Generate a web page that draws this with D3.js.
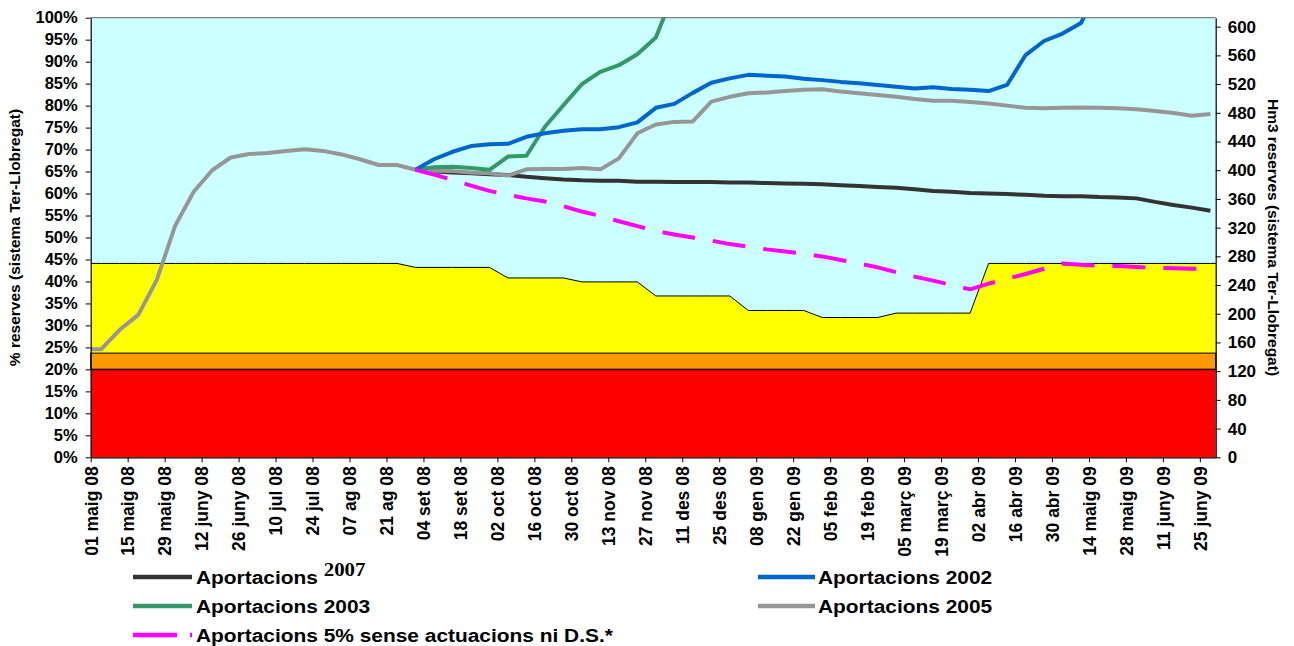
<!DOCTYPE html>
<html>
<head>
<meta charset="utf-8">
<script src="https://cdn.jsdelivr.net/npm/d3@7"></script>
<style>
  body { margin: 0; background: #fff; }
  text { font-family: "Liberation Sans", Arial, sans-serif; font-weight: bold; fill: #000; }
</style>
</head>
<body>
<svg id="chart" width="1294" height="646"></svg>
<script>
const width = 1294;
const height = 646;
const margin = { top: 17.7, right: 78.3, bottom: 188.7, left: 90.7 };
const chartWidth = width - margin.left - margin.right;
const chartHeight = height - margin.top - margin.bottom;

// tick labels of the date axis (every 14 days from 01 maig 08)
const tickLabels = ["01 maig 08","15 maig 08","29 maig 08","12 juny 08","26 juny 08","10 jul 08","24 jul 08",
  "07 ag 08","21 ag 08","04 set 08","18 set 08","02 oct 08","16 oct 08","30 oct 08","13 nov 08","27 nov 08",
  "11 des 08","25 des 08","08 gen 09","22 gen 09","05 feb 09","19 feb 09","05 març 09","19 març 09",
  "02 abr 09","16 abr 09","30 abr 09","14 maig 09","28 maig 09","11 juny 09","25 juny 09"];

// weekly dates: 01 maig 08, then every monday up to 29 juny 09
const firstDate = new Date(2008, 4, 1);
const dates = [firstDate, ...d3.timeMonday.range(new Date(2008, 4, 5), new Date(2009, 5, 30))];

// observed reserves (%) up to the 01 set 08 branch point
const historic = [24.6, 24.6, 29.0, 32.4, 40.3, 52.7, 60.4, 65.3, 68.2, 69.0, 69.2, 69.7, 70.1, 69.7,
  68.9, 67.8, 66.5, 66.5, 65.4];

// scenarios (%) from the branch point onwards
const aport2007 = [65.4, 65.0, 64.8, 64.6, 64.4, 64.2, 63.8, 63.5, 63.2, 63.0,
  62.9, 62.9, 62.7, 62.7, 62.6, 62.6, 62.6, 62.5, 62.5, 62.4,
  62.3, 62.2, 62.1, 61.9, 61.7, 61.5, 61.3, 61.0, 60.6, 60.4,
  60.1, 60.0, 59.9, 59.7, 59.5, 59.4, 59.4, 59.2, 59.1, 58.9,
  58.1, 57.4, 56.8, 56.1];
const aport2002 = [65.4, 67.8, 69.5, 70.8, 71.2, 71.3, 72.9, 73.7, 74.3, 74.6,
  74.6, 75.1, 76.2, 79.5, 80.4, 82.9, 85.2, 86.2, 87.0, 86.8,
  86.6, 86.1, 85.8, 85.4, 85.1, 84.7, 84.3, 83.9, 84.2, 83.8,
  83.6, 83.3, 84.7, 91.5, 94.7, 96.4, 98.8, 107];
const aport2003 = [65.4, 66.0, 66.1, 65.8, 65.4, 68.4, 68.6, 75.2, 80.1, 84.9,
  87.7, 89.2, 91.7, 95.5, 106];
const aport2005 = [65.4, 65.2, 65.1, 64.8, 64.6, 64.1, 65.5, 65.6, 65.6, 65.8,
  65.5, 68.0, 73.7, 75.7, 76.3, 76.4, 80.9, 82.0, 82.8, 83.0,
  83.3, 83.6, 83.7, 83.2, 82.8, 82.4, 82.0, 81.5, 81.1, 81.1,
  80.8, 80.5, 80.0, 79.5, 79.4, 79.5, 79.6, 79.5, 79.4, 79.2,
  78.8, 78.3, 77.7, 78.1];
const aport5pct = [65.4, 64.3, 63.1, 61.8, 60.6, 59.7, 58.9, 58.2, 57.1, 55.9,
  54.9, 53.7, 52.6, 51.5, 50.7, 50.0, 49.3, 48.5, 47.9, 47.3,
  46.8, 46.3, 45.7, 44.9, 44.1, 43.2, 42.1, 41.1, 40.2, 39.2,
  38.2, 39.5, 40.6, 41.7, 42.9, 44.1, 43.8, 43.6, 43.5, 43.3,
  43.1, 43.0, 42.9, 42.8];

// yellow band upper limit (%), one value per date
const yellowTop = [44.1,
  44.1, 44.1, 44.1, 44.1, 44.1, 44.1, 44.1, 44.1, 44.1, 44.1, 44.1, 44.1, 44.1, 44.1, 44.1, 44.1, 44.1,
  43.2, 43.2, 43.2, 43.2, 43.2,
  40.8, 40.8, 40.8, 40.8,
  39.9, 39.9, 39.9, 39.9,
  36.7, 36.7, 36.7, 36.7, 36.7,
  33.4, 33.4, 33.4, 33.4,
  31.8, 31.8, 31.8, 31.8,
  32.8, 32.8, 32.8, 32.8, 32.8,
  44.1, 44.1, 44.1, 44.1, 44.1, 44.1, 44.1, 44.1, 44.1, 44.1, 44.1, 44.1, 44.1];
const orangeTop = 23.7;
const redTop = 20;
const capacityHm3 = 612.5;

const legendLabels = ["Aportacions ", "Aportacions 2002", "Aportacions 2003", "Aportacions 2005",
  "Aportacions 5% sense actuacions ni D.S.*"];

const svg = d3.select("#chart");
const g = svg.append("g").attr("transform", `translate(${margin.left},${margin.top})`);

const x = d3.scaleTime().domain([firstDate, new Date(2009, 6, 1)]).range([0, chartWidth]);
const yL = d3.scaleLinear().domain([0, 100]).range([chartHeight, 0]);
const yR = d3.scaleLinear().domain([0, capacityHm3]).range([chartHeight, 0]);

svg.append("defs").append("clipPath").attr("id", "plotclip")
  .append("rect").attr("width", chartWidth).attr("height", chartHeight);

// background bands
g.append("rect").attr("width", chartWidth).attr("height", chartHeight).attr("fill", "#CCFFFF");

const yellowData = yellowTop.map((v, i) => ({ date: dates[i], v }));
yellowData.push({ date: x.domain()[1], v: yellowTop[yellowTop.length - 1] });

g.append("path").datum(yellowData)
  .attr("fill", "#FFFF00")
  .attr("d", d3.area().x(d => x(d.date)).y0(yL(orangeTop)).y1(d => yL(d.v)));
g.append("path").datum(yellowData)
  .attr("fill", "none").attr("stroke", "#000").attr("stroke-width", 1)
  .attr("d", d3.line().x(d => x(d.date)).y(d => yL(d.v)));

g.append("rect").attr("y", yL(orangeTop)).attr("width", chartWidth)
  .attr("height", yL(redTop) - yL(orangeTop)).attr("fill", "#FF9900")
  .attr("stroke", "#000").attr("stroke-width", 1);
g.append("rect").attr("y", yL(redTop)).attr("width", chartWidth)
  .attr("height", chartHeight - yL(redTop)).attr("fill", "#FF0000");
g.append("line").attr("x2", chartWidth).attr("y1", yL(redTop)).attr("y2", yL(redTop))
  .attr("stroke", "#200000").attr("stroke-width", 1.5);

// lines
const line = d3.line().x(d => x(d.date)).y(d => yL(d.v));
const scenDates = dates.slice(historic.length - 1);
const toPts = (arr, ds) => arr.map((v, i) => ({ date: ds[i], v }));

const lines = g.append("g").attr("clip-path", "url(#plotclip)");
const series = [
  { data: toPts(aport2007, scenDates), color: "#333333" },
  { data: toPts(historic, dates), color: "#969696" },
  { data: toPts(aport2005, scenDates), color: "#969696" },
  { data: toPts(aport2003, scenDates), color: "#339966" },
  { data: toPts(aport2002, scenDates), color: "#0066CC" },
  { data: toPts(aport5pct, scenDates), color: "#FF00FF", dash: "33,18" }
];
series.forEach(s => {
  lines.append("path").datum(s.data)
    .attr("fill", "none")
    .attr("stroke", s.color)
    .attr("stroke-width", 4)
    .attr("stroke-linejoin", "round")
    .attr("stroke-dasharray", s.dash || null)
    .attr("d", line);
});

// frame
g.append("line").attr("x2", chartWidth).attr("stroke", "#808080").attr("stroke-width", 1.2);

// axes
const tickDates = tickLabels.map((_, i) => d3.timeDay.offset(firstDate, 14 * i));

const xAxis = g.append("g")
  .attr("transform", `translate(0,${chartHeight})`)
  .call(d3.axisBottom(x).tickValues(tickDates).tickFormat((d, i) => tickLabels[i])
    .tickSize(5).tickSizeOuter(0));
xAxis.selectAll("text")
  .attr("transform", "rotate(-90)")
  .attr("x", -9).attr("y", 0).attr("dy", "0.36em")
  .style("text-anchor", "end")
  .style("font-size", "17.5px");

const leftAxis = g.append("g")
  .call(d3.axisLeft(yL).tickValues(d3.range(0, 101, 5)).tickFormat(d => d + "%")
    .tickSize(5).tickSizeOuter(0).tickPadding(8));
leftAxis.selectAll("text").style("font-size", "16.5px");

const rightAxis = g.append("g")
  .attr("transform", `translate(${chartWidth},0)`)
  .call(d3.axisRight(yR).tickValues(d3.range(0, 601, 40))
    .tickSize(5).tickSizeOuter(0).tickPadding(7));
rightAxis.selectAll("text").style("font-size", "17px");

svg.selectAll(".domain").attr("stroke", "#000").attr("stroke-width", 1.2);
svg.selectAll(".tick line").attr("stroke", "#000");

// axis titles
svg.append("text")
  .attr("transform", `translate(20,${margin.top + chartHeight / 2}) rotate(-90)`)
  .attr("text-anchor", "middle")
  .style("font-size", "15.5px")
  .text("% reserves (sistema Ter-Llobregat)");
svg.append("text")
  .attr("transform", `translate(1268,${margin.top + chartHeight / 2}) rotate(90)`)
  .attr("text-anchor", "middle")
  .style("font-size", "15.5px")
  .text("Hm3 reserves (sistema Ter-Llobregat)");

// legend
const legendCols = [{ lx: 133, lw: 59, tx: 196 }, { lx: 758, lw: 57, tx: 818 }];
const legendRows = [584, 613, 642];
const legendItems = [
  { label: legendLabels[0], color: "#333333", col: 0, row: 0, year: "2007" },
  { label: legendLabels[1], color: "#0066CC", col: 1, row: 0 },
  { label: legendLabels[2], color: "#339966", col: 0, row: 1 },
  { label: legendLabels[3], color: "#969696", col: 1, row: 1 },
  { label: legendLabels[4], color: "#FF00FF", col: 0, row: 2, dash: "44,13" }
];
const legend = svg.append("g");
legendItems.forEach(it => {
  const c = legendCols[it.col];
  const by = legendRows[it.row];
  legend.append("line")
    .attr("x1", c.lx).attr("x2", c.lx + c.lw)
    .attr("y1", by - 7).attr("y2", by - 7)
    .attr("stroke", it.color).attr("stroke-width", 4.5)
    .attr("stroke-dasharray", it.dash || null);
  const t = legend.append("text")
    .attr("transform", `translate(${c.tx},${by}) scale(1.1,1)`)
    .style("font-size", "19px");
  t.append("tspan").text(it.label);
  if (it.year) {
    t.append("tspan").attr("dy", -8)
      .style("font-family", "'Liberation Serif', 'Times New Roman', serif")
      .text(it.year);
  }
});
</script>
</body>
</html>
